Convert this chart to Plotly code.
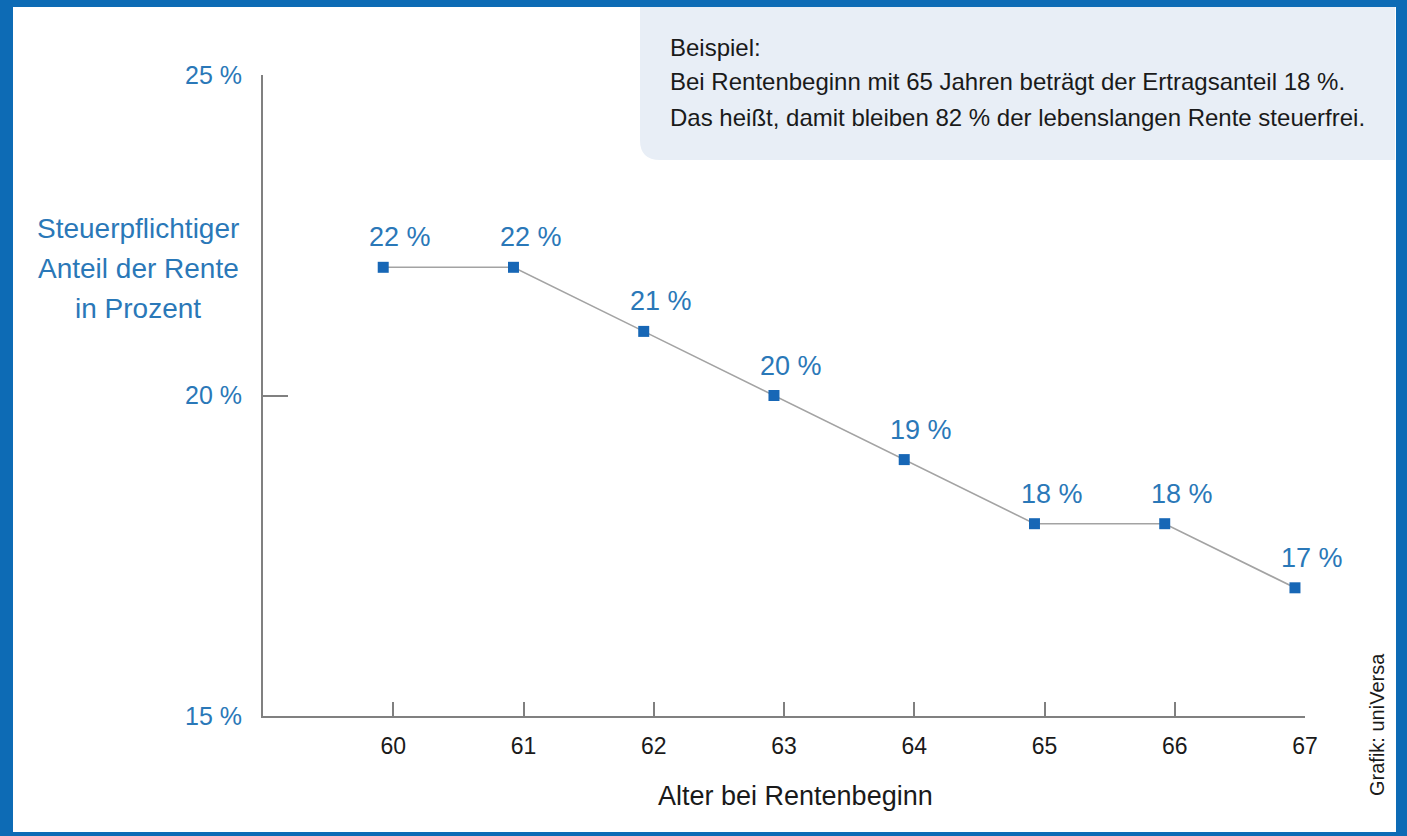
import plotly.graph_objects as go

ages = [60, 61, 62, 63, 64, 65, 66, 67]
shares = [22, 22, 21, 20, 19, 18, 18, 17]
labels = ["22 %", "22 %", "21 %", "20 %", "19 %", "18 %", "18 %", "17 %"]
y_ticks = [15, 20, 25]
y_tick_text = ["15 %", "20 %", "25 %"]
y_title_lines = ["Steuerpflichtiger", "Anteil der Rente", "in Prozent"]
x_title = "Alter bei Rentenbeginn"
box_lines = ["Beispiel:",
             "Bei Rentenbeginn mit 65 Jahren beträgt der Ertragsanteil 18 %.",
             "Das heißt, damit bleiben 82 % der lebenslangen Rente steuerfrei."]
credit = "Grafik: uniVersa"

FONT = "Liberation Sans Narrow, Liberation Sans, Arial"
BLUE = "#2a78b8"
MARK = "#1767b6"
FRAME = "#0d6bb5"

W, H = 1407, 836
L, R, T, B = 263, 102, 75, 120
PW, PH = W - L - R, H - T - B


def px(x):
    return (x - L) / PW


def py(y):
    return (H - B - y) / PH


fig = go.Figure()
fig.add_trace(go.Scatter(
    x=ages, y=shares, mode="lines+markers", xaxis="x2",
    line=dict(color="#a3a3a3", width=1.6),
    marker=dict(symbol="square", size=11, color=MARK),
    hoverinfo="skip", showlegend=False,
))

annotations = []
for a, s, t in zip(ages, shares, labels):
    annotations.append(dict(x=a, y=s, xref="x", yref="y", text=t, showarrow=False,
                            xshift=7, yshift=30,
                            font=dict(family=FONT, size=27, color=BLUE)))

for i, line in enumerate(y_title_lines):
    annotations.append(dict(x=px(138), y=py(228 + 40 * i), xref="paper", yref="paper",
                            text=line, showarrow=False, xanchor="center", yanchor="middle",
                            font=dict(family=FONT, size=28, color=BLUE)))

annotations.append(dict(x=px(795), y=py(796), xref="paper", yref="paper", text=x_title,
                        showarrow=False, xanchor="center", yanchor="middle",
                        font=dict(family=FONT, size=27, color="#1a1a1a")))

for i, line in enumerate(box_lines):
    annotations.append(dict(x=px(668), y=py(47 + 35 * i), xref="paper", yref="paper",
                            text=line, showarrow=False, xanchor="left", yanchor="middle",
                            font=dict(family=FONT, size=24, color="#1a1a1a")))

annotations.append(dict(x=px(1377), y=py(725), xref="paper", yref="paper", text=credit,
                        showarrow=False, textangle=-90, xanchor="center", yanchor="middle",
                        font=dict(family=FONT, size=20, color="#1a1a1a")))

shapes = []
# info box with rounded bottom-left corner
x0, x1, y0, y1, r = px(640), px(1395), py(7), py(160), 20 / PW
ry = 20 / PH
shapes.append(dict(type="path", xref="paper", yref="paper",
                   path=(f"M {x0},{y0} L {x1},{y0} L {x1},{y1} L {x0 + r},{y1} "
                         f"Q {x0},{y1} {x0},{y1 + ry} Z"),
                   fillcolor="#e8eef6", line=dict(width=0), layer="below"))
# blue frame
for (a, b, c, d) in [(0, 0, 13, H), (0, 0, W, 7), (W - 11, 0, W, H), (0, H - 4, W, H)]:
    shapes.append(dict(type="rect", xref="paper", yref="paper",
                       x0=px(a), x1=px(c), y0=py(b), y1=py(d),
                       fillcolor=FRAME, line=dict(width=0), layer="above"))

fig.update_layout(
    width=W, height=H,
    margin=dict(l=L, r=R, t=T, b=B),
    paper_bgcolor="white", plot_bgcolor="white",
    xaxis=dict(range=[59, 67], tickvals=ages, ticktext=[str(a) for a in ages],
               ticks="inside", ticklen=14, tickwidth=2, tickcolor="#808080",
               showline=True, linecolor="#808080", linewidth=2,
               showgrid=False, zeroline=False, ticklabelstandoff=8,
               tickfont=dict(family=FONT, size=23, color="#1a1a1a")),
    xaxis2=dict(range=[59 + 0.077, 67 + 0.077], overlaying="x", visible=False),
    yaxis=dict(range=[15, 25], tickvals=y_ticks, ticktext=y_tick_text,
               ticks="inside", ticklen=25, tickwidth=2, tickcolor="#808080",
               showline=True, linecolor="#808080", linewidth=2,
               showgrid=False, zeroline=False, ticklabelstandoff=14,
               tickfont=dict(family=FONT, size=25, color=BLUE)),
    annotations=annotations,
    shapes=shapes,
)

fig.write_html("out.html", config={"displayModeBar": False},
               post_script="document.body.style.margin='0';document.body.style.overflow='hidden';")
